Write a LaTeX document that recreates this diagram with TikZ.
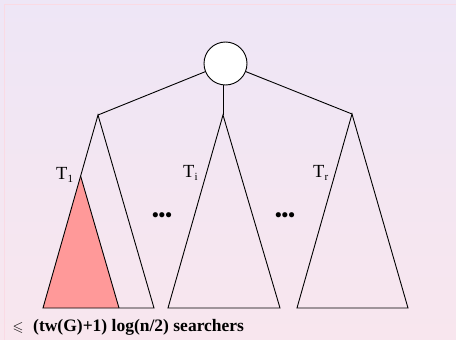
\documentclass[tikz,border=0pt]{standalone}
\usepackage{amssymb}
\usepackage{fontspec}
\setmainfont{Liberation Serif}
\definecolor{bgtop}{RGB}{238,230,246}
\definecolor{bgbot}{RGB}{248,230,238}
\definecolor{framecol}{RGB}{250,218,228}
\definecolor{redfill}{RGB}{255,153,153}
\tikzset{
  edge/.style={draw=black, line width=0.9pt},
  tree/.style={draw=black, line width=0.9pt, line join=miter},
  lbl/.style={inner sep=0pt, font=\fontsize{18.5}{18.5}\selectfont},
  dots/.style={inner sep=0pt, font=\fontsize{19}{19}\selectfont\bfseries},
}
\newcommand{\sbs}[1]{\raisebox{-3pt}{\fontsize{11}{11}\selectfont #1}}
\begin{document}
\begin{tikzpicture}[x=1pt,y=-1pt]
\useasboundingbox (0,0) rectangle (456,340);
\shade[top color=bgtop, bottom color=bgbot] (0,0) rectangle (456,340);
\draw[framecol, line width=1pt] (4.5,480) -- (4.5,4.5) -- (480,4.5);
% coordinates
\coordinate (a1) at (98,115);
\coordinate (ai) at (223,115);
\coordinate (ar) at (352,114);
\coordinate (l1) at (43,308);
\coordinate (r1) at (154,308);
\coordinate (li) at (168,308);
\coordinate (ri) at (280,308);
\coordinate (lr) at (297,308);
\coordinate (rr) at (408,308);
\coordinate (redtop) at (80.6,176);
\coordinate (redr) at (119,308);
% subtrees
\fill[redfill] (redtop) -- (l1) -- (redr) -- cycle;
\draw[tree] (a1) -- (l1) -- (r1) -- cycle;
\draw[tree] (redtop) -- (redr);
\draw[tree] (ai) -- (li) -- (ri) -- cycle;
\draw[tree] (ar) -- (lr) -- (rr) -- cycle;
% root
\node[circle, draw=black, fill=white, line width=0.9pt, minimum size=43pt, inner sep=0pt] (root) at (225.5,63.5) {};
\draw[edge] (root) -- (a1);
\draw[edge] (root) -- (ar);
\draw[edge] (223,85) -- (ai);
% labels
\node[lbl, anchor=base west] (t1) at (56,179) {T\sbs{1}};
\node[lbl, anchor=base west] (ti) at (183,177) {T\sbs{i}};
\node[lbl, anchor=base west] (tr) at (313,177) {T\sbs{r}};
\node[dots] (d1) at (162,217) {•••};
\node[dots] (d2) at (285,217) {•••};
% bottom text
\node[inner sep=0pt, anchor=base west, font=\fontsize{17.5}{17.5}\selectfont\bfseries] (txt) at (33,331) {(tw(G)+1) log(n/2) searchers};
\node[inner sep=0pt, font=\fontsize{14}{14}\selectfont] (leq) at (18,327.5) {$\leqslant$};
\end{tikzpicture}
\end{document}
